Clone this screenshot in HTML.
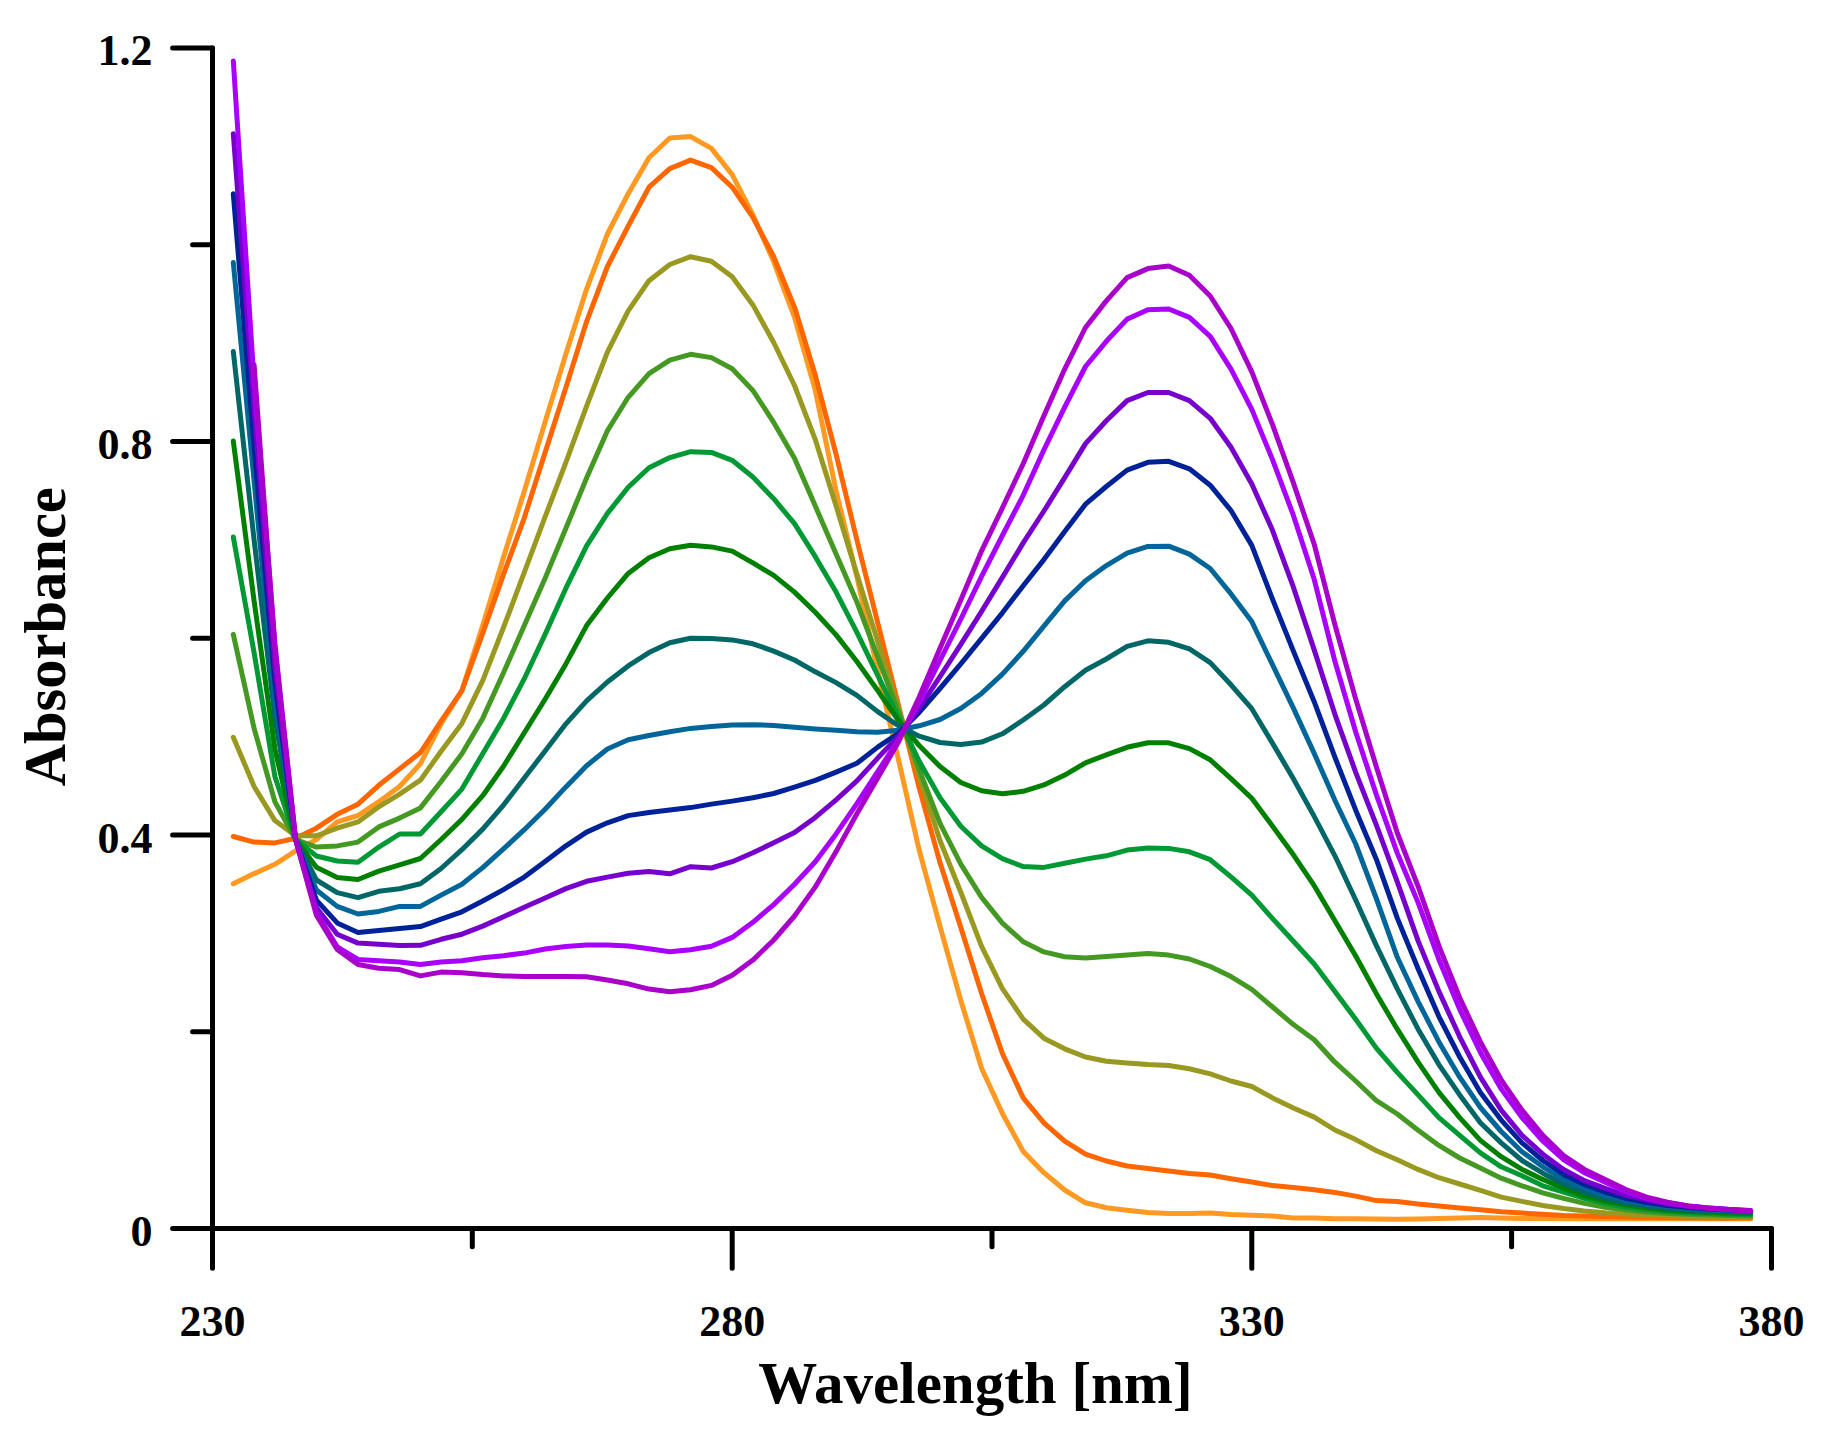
<!DOCTYPE html>
<html lang="en"><head><meta charset="utf-8"><title>Absorbance vs Wavelength</title>
<style>
html,body{margin:0;padding:0;background:#fff;}
body{width:1822px;height:1439px;overflow:hidden;}
svg{display:block;}
text{font-family:"Liberation Serif","DejaVu Serif",serif;font-weight:bold;fill:#000;}
.tick{font-size:44px;}
.title{font-size:59px;}
.ax{stroke:#000;stroke-width:5.0;stroke-linecap:round;fill:none;}
.c{fill:none;stroke-width:5.0;stroke-linejoin:round;stroke-linecap:round;}
</style></head><body>
<svg width="1822" height="1439" viewBox="0 0 1822 1439">
<rect width="1822" height="1439" fill="#fff"/>

<g>
<polyline class="c" stroke="#FF9922" points="233.3,883.7 254.1,873.6 274.9,864.3 295.6,850.9 316.4,839.5 337.2,821.9 358.0,815.5 378.8,801.7 399.6,786.5 420.4,763.8 441.1,723.4 461.9,690.6 482.7,625.6 503.5,557.2 524.3,491.3 545.1,421.9 565.9,354.0 586.6,289.1 607.4,234.0 628.2,193.7 649.0,157.7 669.8,138.0 690.6,136.6 711.4,148.4 732.2,174.6 752.9,214.9 773.7,261.6 794.5,317.3 815.3,390.4 836.1,491.0 856.9,576.8 877.7,670.8 898.4,759.4 919.2,850.2 940.0,926.4 960.8,1000.4 981.6,1068.2 1002.4,1113.5 1023.2,1151.4 1043.9,1172.7 1064.7,1190.0 1085.5,1202.8 1106.3,1207.8 1127.1,1210.3 1147.9,1212.4 1168.7,1213.4 1189.4,1213.4 1210.2,1212.9 1231.0,1214.6 1251.8,1215.3 1272.6,1216.1 1293.4,1217.9 1314.2,1217.9 1334.9,1218.7 1355.7,1218.7 1376.5,1219.0 1397.3,1219.3 1418.1,1219.0 1438.9,1218.6 1459.7,1218.0 1480.4,1217.6 1501.2,1218.0 1522.0,1218.4 1542.8,1218.6 1563.6,1218.8 1584.4,1218.8 1605.2,1218.8 1625.9,1218.8 1646.7,1218.8 1667.5,1218.8 1688.3,1218.8 1709.1,1218.8 1729.9,1218.8 1750.7,1218.8"/>
<polyline class="c" stroke="#FF6600" points="233.3,836.5 254.1,842.1 274.9,842.9 295.6,838.3 316.4,828.2 337.2,814.3 358.0,804.2 378.8,785.3 399.6,768.9 420.4,752.5 441.1,721.0 461.9,690.6 482.7,633.4 503.5,574.4 524.3,517.8 545.1,452.4 565.9,387.5 586.6,321.6 607.4,266.5 628.2,226.2 649.0,187.2 669.8,168.6 690.6,160.1 711.4,167.6 732.2,187.2 752.9,217.3 773.7,256.7 794.5,307.1 815.3,375.3 836.1,454.4 856.9,540.0 877.7,622.6 898.4,705.2 919.2,787.9 940.0,862.6 960.8,927.6 981.6,993.5 1002.4,1053.5 1023.2,1097.9 1043.9,1122.8 1064.7,1141.2 1085.5,1154.1 1106.3,1161.0 1127.1,1166.0 1147.9,1168.6 1168.7,1171.1 1189.4,1173.6 1210.2,1175.0 1231.0,1178.7 1251.8,1182.0 1272.6,1185.6 1293.4,1187.6 1314.2,1189.8 1334.9,1192.4 1355.7,1196.1 1376.5,1200.6 1397.3,1201.4 1418.1,1204.0 1438.9,1206.0 1459.7,1208.0 1480.4,1209.8 1501.2,1211.8 1522.0,1213.1 1542.8,1214.3 1563.6,1215.6 1584.4,1216.1 1605.2,1216.6 1625.9,1217.0 1646.7,1217.3 1667.5,1217.6 1688.3,1217.8 1709.1,1218.0 1729.9,1218.1 1750.7,1218.1"/>
<polyline class="c" stroke="#999922" points="233.3,737.3 254.1,786.5 274.9,820.6 295.6,835.8 316.4,835.8 337.2,828.2 358.0,821.9 378.8,806.8 399.6,794.1 420.4,780.2 441.1,751.2 461.9,723.4 482.7,680.7 503.5,627.5 524.3,572.4 545.1,516.9 565.9,462.3 586.6,406.2 607.4,352.1 628.2,310.8 649.0,280.7 669.8,264.5 690.6,256.7 711.4,261.2 732.2,276.8 752.9,304.9 773.7,342.5 794.5,385.5 815.3,439.6 836.1,506.1 856.9,574.3 877.7,641.6 898.4,708.2 919.2,776.1 940.0,840.5 960.8,892.2 981.6,946.3 1002.4,988.6 1023.2,1019.1 1043.9,1038.2 1064.7,1048.8 1085.5,1057.0 1106.3,1061.2 1127.1,1063.0 1147.9,1064.5 1168.7,1065.5 1189.4,1068.8 1210.2,1073.9 1231.0,1081.0 1251.8,1086.5 1272.6,1097.9 1293.4,1108.0 1314.2,1117.1 1334.9,1130.0 1355.7,1139.6 1376.5,1150.7 1397.3,1159.7 1418.1,1169.4 1438.9,1177.7 1459.7,1184.0 1480.4,1190.3 1501.2,1197.1 1522.0,1201.4 1542.8,1205.5 1563.6,1208.5 1584.4,1211.0 1605.2,1212.8 1625.9,1214.0 1646.7,1215.3 1667.5,1215.8 1688.3,1216.3 1709.1,1216.8 1729.9,1217.1 1750.7,1217.3"/>
<polyline class="c" stroke="#449922" points="233.3,634.4 254.1,728.5 274.9,801.7 295.6,839.5 316.4,847.1 337.2,845.9 358.0,842.1 378.8,826.9 399.6,818.1 420.4,807.9 441.1,781.5 461.9,753.7 482.7,718.4 503.5,672.8 524.3,625.6 545.1,578.3 565.9,528.2 586.6,478.0 607.4,430.8 628.2,397.3 649.0,373.7 669.8,360.1 690.6,354.3 711.4,357.6 732.2,368.8 752.9,390.4 773.7,422.4 794.5,458.3 815.3,506.1 836.1,554.1 856.9,602.0 877.7,657.0 898.4,711.6 919.2,769.7 940.0,823.3 960.8,864.1 981.6,897.4 1002.4,923.1 1023.2,941.7 1043.9,951.9 1064.7,956.8 1085.5,958.0 1106.3,956.4 1127.1,955.1 1147.9,953.4 1168.7,955.1 1189.4,959.0 1210.2,966.5 1231.0,976.6 1251.8,989.3 1272.6,1007.0 1293.4,1024.6 1314.2,1039.7 1334.9,1062.2 1355.7,1081.0 1376.5,1100.7 1397.3,1114.0 1418.1,1130.2 1438.9,1145.4 1459.7,1158.0 1480.4,1168.1 1501.2,1178.2 1522.0,1185.8 1542.8,1192.8 1563.6,1198.4 1584.4,1203.4 1605.2,1207.3 1625.9,1209.8 1646.7,1211.9 1667.5,1213.5 1688.3,1214.3 1709.1,1215.0 1729.9,1215.6 1750.7,1216.1"/>
<polyline class="c" stroke="#009933" points="233.3,537.0 254.1,652.7 274.9,776.5 295.6,839.5 316.4,856.0 337.2,861.0 358.0,862.3 378.8,847.1 399.6,834.0 420.4,834.0 441.1,811.8 461.9,789.1 482.7,753.7 503.5,718.4 524.3,678.7 545.1,634.4 565.9,588.2 586.6,545.9 607.4,513.4 628.2,487.3 649.0,467.7 669.8,457.6 690.6,451.7 711.4,452.4 732.2,460.3 752.9,477.0 773.7,498.7 794.5,523.7 815.3,556.7 836.1,592.1 856.9,632.4 877.7,675.3 898.4,717.5 919.2,761.3 940.0,797.7 960.8,826.2 981.6,845.9 1002.4,858.7 1023.2,866.6 1043.9,867.4 1064.7,863.3 1085.5,859.1 1106.3,855.8 1127.1,850.1 1147.9,848.1 1168.7,848.4 1189.4,851.8 1210.2,859.7 1231.0,876.9 1251.8,895.1 1272.6,918.6 1293.4,941.3 1314.2,964.0 1334.9,991.5 1355.7,1019.3 1376.5,1048.4 1397.3,1072.4 1418.1,1094.9 1438.9,1117.6 1459.7,1135.3 1480.4,1152.9 1501.2,1166.8 1522.0,1175.7 1542.8,1185.8 1563.6,1192.1 1584.4,1198.4 1605.2,1203.4 1625.9,1207.3 1646.7,1209.7 1667.5,1211.5 1688.3,1212.7 1709.1,1213.6 1729.9,1214.3 1750.7,1214.8"/>
<polyline class="c" stroke="#008000" points="233.3,441.1 254.1,601.0 274.9,748.7 295.6,839.5 316.4,867.3 337.2,877.4 358.0,879.5 378.8,871.1 399.6,864.8 420.4,858.5 441.1,839.5 461.9,819.4 482.7,795.7 503.5,766.2 524.3,732.8 545.1,699.3 565.9,663.9 586.6,625.6 607.4,598.0 628.2,573.4 649.0,557.7 669.8,548.8 690.6,545.3 711.4,546.9 732.2,551.1 752.9,562.9 773.7,575.4 794.5,592.1 815.3,612.2 836.1,634.9 856.9,661.5 877.7,690.5 898.4,720.7 919.2,745.6 940.0,766.5 960.8,782.5 981.6,790.8 1002.4,793.8 1023.2,791.3 1043.9,784.9 1064.7,775.1 1085.5,762.8 1106.3,754.9 1127.1,747.3 1147.9,742.8 1168.7,742.8 1189.4,748.6 1210.2,759.8 1231.0,778.7 1251.8,798.3 1272.6,826.2 1293.4,854.8 1314.2,885.7 1334.9,920.7 1355.7,956.0 1376.5,993.9 1397.3,1029.2 1418.1,1062.1 1438.9,1092.4 1459.7,1117.6 1480.4,1140.4 1501.2,1156.7 1522.0,1169.4 1542.8,1179.4 1563.6,1188.3 1584.4,1195.8 1605.2,1201.0 1625.9,1204.7 1646.7,1207.9 1667.5,1210.3 1688.3,1211.4 1709.1,1212.3 1729.9,1213.0 1750.7,1213.5"/>
<polyline class="c" stroke="#006666" points="233.3,351.6 254.1,540.0 274.9,717.0 295.6,839.5 316.4,880.0 337.2,892.6 358.0,897.6 378.8,891.3 399.6,888.8 420.4,883.7 441.1,868.5 461.9,849.7 482.7,829.1 503.5,805.1 524.3,778.0 545.1,750.9 565.9,723.8 586.6,700.8 607.4,682.0 628.2,665.9 649.0,652.6 669.8,642.8 690.6,638.2 711.4,638.6 732.2,639.9 752.9,643.8 773.7,651.1 794.5,660.0 815.3,671.8 836.1,682.6 856.9,695.4 877.7,711.6 898.4,725.8 919.2,736.2 940.0,742.5 960.8,744.6 981.6,742.1 1002.4,733.8 1023.2,720.0 1043.9,705.0 1064.7,686.7 1085.5,670.3 1106.3,659.0 1127.1,646.3 1147.9,640.8 1168.7,642.3 1189.4,648.9 1210.2,662.6 1231.0,684.8 1251.8,708.7 1272.6,743.4 1293.4,778.7 1314.2,816.4 1334.9,855.8 1355.7,900.0 1376.5,945.9 1397.3,988.9 1418.1,1029.2 1438.9,1064.6 1459.7,1094.9 1480.4,1122.7 1501.2,1142.9 1522.0,1160.5 1542.8,1173.2 1563.6,1184.0 1584.4,1192.1 1605.2,1198.4 1625.9,1202.9 1646.7,1206.0 1667.5,1208.5 1688.3,1209.9 1709.1,1210.9 1729.9,1211.7 1750.7,1212.3"/>
<polyline class="c" stroke="#006699" points="233.3,262.6 254.1,480.9 274.9,701.3 295.6,839.5 316.4,890.0 337.2,906.4 358.0,914.0 378.8,911.4 399.6,906.4 420.4,906.4 441.1,895.1 461.9,884.3 482.7,867.6 503.5,848.9 524.3,829.7 545.1,809.3 565.9,786.9 586.6,765.7 607.4,749.0 628.2,739.7 649.0,735.5 669.8,731.7 690.6,728.4 711.4,726.6 732.2,724.9 752.9,724.7 773.7,725.4 794.5,727.3 815.3,728.9 836.1,730.3 856.9,731.8 877.7,732.3 898.4,730.3 919.2,725.8 940.0,719.5 960.8,708.5 981.6,693.4 1002.4,674.1 1023.2,651.3 1043.9,626.2 1064.7,600.9 1085.5,580.7 1106.3,565.6 1127.1,553.1 1147.9,546.4 1168.7,546.2 1189.4,554.1 1210.2,568.5 1231.0,593.9 1251.8,621.6 1272.6,664.9 1293.4,708.2 1314.2,753.4 1334.9,800.2 1355.7,844.0 1376.5,899.0 1397.3,957.3 1418.1,1001.6 1438.9,1041.9 1459.7,1077.2 1480.4,1107.5 1501.2,1131.5 1522.0,1151.7 1542.8,1166.8 1563.6,1179.4 1584.4,1188.3 1605.2,1195.3 1625.9,1200.5 1646.7,1204.0 1667.5,1206.8 1688.3,1208.4 1709.1,1209.9 1729.9,1210.9 1750.7,1211.8"/>
<polyline class="c" stroke="#002299" points="233.3,193.7 254.1,446.5 274.9,682.6 295.6,839.5 316.4,900.1 337.2,922.9 358.0,932.4 378.8,930.4 399.6,928.4 420.4,926.6 441.1,919.1 461.9,911.8 482.7,901.0 503.5,889.6 524.3,877.1 545.1,861.5 565.9,845.8 586.6,832.1 607.4,822.8 628.2,815.6 649.0,812.5 669.8,809.9 690.6,807.6 711.4,804.1 732.2,801.1 752.9,797.7 773.7,793.5 794.5,787.2 815.3,780.4 836.1,772.1 856.9,763.3 877.7,747.1 898.4,733.3 919.2,712.4 940.0,688.5 960.8,663.9 981.6,638.3 1002.4,612.8 1023.2,585.7 1043.9,559.6 1064.7,531.6 1085.5,504.2 1106.3,486.5 1127.1,470.1 1147.9,462.3 1168.7,461.3 1189.4,468.8 1210.2,485.2 1231.0,510.5 1251.8,545.4 1272.6,599.4 1293.4,651.1 1314.2,701.7 1334.9,757.2 1355.7,810.2 1376.5,859.7 1397.3,918.1 1418.1,968.7 1438.9,1016.6 1459.7,1057.0 1480.4,1092.4 1501.2,1120.1 1522.0,1142.9 1542.8,1160.5 1563.6,1174.4 1584.4,1184.5 1605.2,1192.1 1625.9,1198.4 1646.7,1202.5 1667.5,1205.5 1688.3,1207.4 1709.1,1208.9 1729.9,1210.1 1750.7,1211.0"/>
<polyline class="c" stroke="#7700CC" points="233.3,133.7 254.1,409.6 274.9,667.3 295.6,839.5 316.4,907.7 337.2,934.2 358.0,943.1 378.8,944.3 399.6,945.6 420.4,945.3 441.1,939.3 461.9,934.2 482.7,926.1 503.5,916.8 524.3,907.3 545.1,898.0 565.9,888.6 586.6,881.3 607.4,877.1 628.2,873.3 649.0,871.5 669.8,873.8 690.6,866.7 711.4,868.0 732.2,861.7 752.9,852.8 773.7,842.7 794.5,832.6 815.3,817.4 836.1,799.8 856.9,780.9 877.7,758.1 898.4,736.6 919.2,708.1 940.0,676.7 960.8,644.3 981.6,611.3 1002.4,577.4 1023.2,542.9 1043.9,511.0 1064.7,477.6 1085.5,443.6 1106.3,420.8 1127.1,400.6 1147.9,392.5 1168.7,392.5 1189.4,400.6 1210.2,418.3 1231.0,447.3 1251.8,483.9 1272.6,530.6 1293.4,587.2 1314.2,649.9 1334.9,714.3 1355.7,772.3 1376.5,825.4 1397.3,881.8 1418.1,940.9 1438.9,991.4 1459.7,1036.8 1480.4,1077.2 1501.2,1110.1 1522.0,1135.3 1542.8,1154.2 1563.6,1169.4 1584.4,1180.7 1605.2,1188.3 1625.9,1195.3 1646.7,1200.1 1667.5,1204.0 1688.3,1206.2 1709.1,1207.9 1729.9,1209.4 1750.7,1210.5"/>
<polyline class="c" stroke="#AA00FF" points="233.3,60.9 254.1,382.6 274.9,643.3 295.6,839.5 316.4,912.8 337.2,946.9 358.0,959.4 378.8,960.7 399.6,962.0 420.4,964.5 441.1,962.0 461.9,960.7 482.7,957.7 503.5,955.7 524.3,953.1 545.1,949.0 565.9,946.6 586.6,944.9 607.4,944.9 628.2,945.9 649.0,948.7 669.8,951.8 690.6,949.7 711.4,946.3 732.2,937.4 752.9,922.3 773.7,904.6 794.5,884.3 815.3,861.7 836.1,833.9 856.9,803.6 877.7,771.6 898.4,740.1 919.2,701.8 940.0,660.5 960.8,619.2 981.6,576.4 1002.4,535.5 1023.2,495.3 1043.9,449.9 1064.7,407.2 1085.5,366.5 1106.3,341.3 1127.1,319.1 1147.9,309.8 1168.7,309.0 1189.4,317.4 1210.2,336.3 1231.0,369.1 1251.8,409.4 1272.6,459.9 1293.4,515.4 1314.2,579.3 1334.9,661.3 1355.7,732.0 1376.5,795.1 1397.3,853.1 1418.1,902.6 1438.9,959.5 1459.7,1009.4 1480.4,1052.5 1501.2,1088.9 1522.0,1117.6 1542.8,1141.0 1563.6,1159.7 1584.4,1172.7 1605.2,1182.2 1625.9,1191.4 1646.7,1198.3 1667.5,1202.8 1688.3,1206.0 1709.1,1208.1 1729.9,1209.5 1750.7,1210.7"/>
<polyline class="c" stroke="#AA00CC" points="254.1,364.9 274.9,648.2 295.6,839.5 316.4,915.3 337.2,949.4 358.0,964.5 378.8,968.3 399.6,969.6 420.4,975.9 441.1,972.1 461.9,972.8 482.7,974.6 503.5,975.9 524.3,976.4 545.1,976.4 565.9,976.4 586.6,976.8 607.4,980.0 628.2,983.8 649.0,989.1 669.8,991.7 690.6,989.8 711.4,985.4 732.2,975.3 752.9,960.1 773.7,940.0 794.5,916.0 815.3,886.9 836.1,851.6 856.9,813.8 877.7,778.0 898.4,742.1 919.2,697.1 940.0,648.2 960.8,600.0 981.6,550.8 1002.4,507.9 1023.2,463.7 1043.9,415.7 1064.7,369.1 1085.5,327.5 1106.3,300.9 1127.1,277.6 1147.9,268.6 1168.7,266.0 1189.4,275.3 1210.2,296.0 1231.0,328.5 1251.8,371.8 1272.6,424.9 1293.4,482.9 1314.2,544.2 1334.9,624.7 1355.7,699.1 1376.5,767.3 1397.3,833.0 1418.1,886.3 1438.9,945.9 1459.7,997.7 1480.4,1041.9 1501.2,1079.8 1522.0,1110.1 1542.8,1135.3 1563.6,1155.5 1584.4,1169.4 1605.2,1179.4 1625.9,1189.5 1646.7,1197.1 1667.5,1202.2 1688.3,1206.0 1709.1,1208.5 1729.9,1209.8 1750.7,1211.0"/>
</g>
<g class="ax">
<line x1="172.6" y1="1228.6" x2="1771.5" y2="1228.6"/>
<line x1="212.5" y1="48.1" x2="212.5" y2="1268.3"/>
<line x1="732.2" y1="1228.6" x2="732.2" y2="1268.3"/>
<line x1="1251.8" y1="1228.6" x2="1251.8" y2="1268.3"/>
<line x1="1771.5" y1="1228.6" x2="1771.5" y2="1268.3"/>
<line x1="472.3" y1="1228.6" x2="472.3" y2="1246.8"/>
<line x1="992.0" y1="1228.6" x2="992.0" y2="1246.8"/>
<line x1="1511.6" y1="1228.6" x2="1511.6" y2="1246.8"/>
<line x1="172.6" y1="835.1" x2="212.5" y2="835.1"/>
<line x1="172.6" y1="441.6" x2="212.5" y2="441.6"/>
<line x1="172.6" y1="48.1" x2="212.5" y2="48.1"/>
<line x1="192.6" y1="1031.8" x2="212.5" y2="1031.8"/>
<line x1="192.6" y1="638.3" x2="212.5" y2="638.3"/>
<line x1="192.6" y1="244.8" x2="212.5" y2="244.8"/>
</g>
<text class="tick" x="152.5" y="1246.1" text-anchor="end">0</text>
<text class="tick" x="152.5" y="852.6" text-anchor="end">0.4</text>
<text class="tick" x="152.5" y="459.1" text-anchor="end">0.8</text>
<text class="tick" x="152.5" y="64.6" text-anchor="end">1.2</text>
<text class="tick" x="212.5" y="1335.5" text-anchor="middle">230</text>
<text class="tick" x="732.2" y="1335.5" text-anchor="middle">280</text>
<text class="tick" x="1251.8" y="1335.5" text-anchor="middle">330</text>
<text class="tick" x="1771.5" y="1335.5" text-anchor="middle">380</text>
<text class="title" x="975.5" y="1402.7" text-anchor="middle">Wavelength [nm]</text>
<text class="title" style="font-size:58.5px" transform="translate(65,636.7) rotate(-90)" text-anchor="middle">Absorbance</text>
</svg></body></html>
